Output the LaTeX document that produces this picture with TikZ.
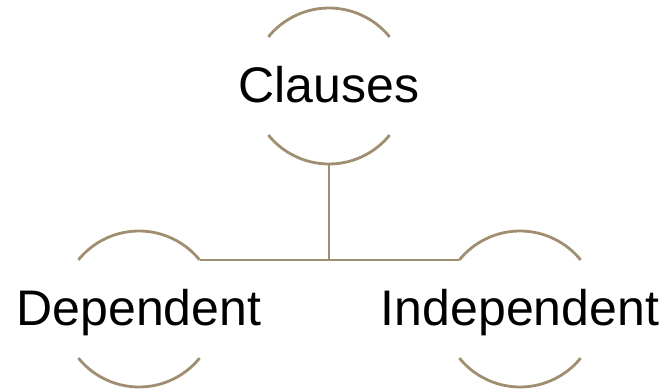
\documentclass[tikz,border=0pt]{standalone}
\usepackage{fontspec}
\setmainfont{Liberation Sans}
\definecolor{taupe}{RGB}{160,142,112}
\begin{document}
\begin{tikzpicture}[x=1pt,y=-1pt,
  caption/.style={inner sep=0pt,
    font=\fontsize{50}{60}\selectfont,text height=35.8pt,text depth=0pt},
  rim/.style={draw=taupe,line width=2.8pt},
  link/.style={draw=taupe,line width=2.8pt}]
\useasboundingbox (0,0) rectangle (668,391);
% ring centres
\coordinate (clauses) at (329,86);
\coordinate (dep) at (139,309);
\coordinate (indep) at (520,309);
\node[caption] (clausesT) at ([yshift=1.5pt]clauses) {Clauses};
\node[caption] (depT) at ([yshift=1.5pt]dep) {Dependent};
\node[caption] (indepT) at ([yshift=1.5pt]indep) {Independent};
% open rings: only the upper and lower caps are stroked
\foreach \n in {clauses,dep,indep}{
  \draw[rim] (\n) ++(39:78pt) arc[start angle=39,end angle=141,radius=78pt];
  \draw[rim] (\n) ++(-141:78pt) arc[start angle=-141,end angle=-39,radius=78pt];
}
% points where the connectors meet the rings
\path (clauses) ++(-90:78pt) coordinate (clausesB);
\path (dep) ++(39:78pt) coordinate (depR);
\path (indep) ++(141:78pt) coordinate (indepL);
\draw[link] (clausesB) -- (clausesB |- depR);
\draw[link] (depR) -- (indepL);
\end{tikzpicture}
\end{document}
